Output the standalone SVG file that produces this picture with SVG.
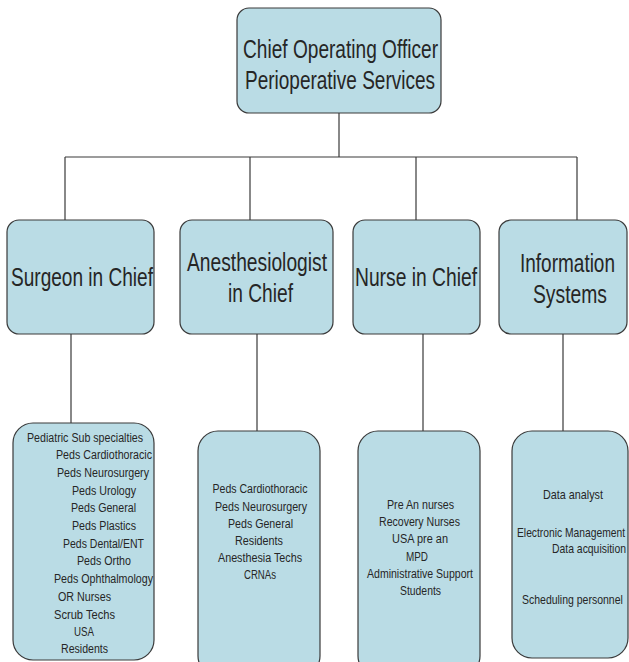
<svg xmlns="http://www.w3.org/2000/svg" width="629" height="662" viewBox="0 0 629 662">
<style>
.box{fill:#badce5;stroke:#3a3a3a;stroke-width:1.2}
.con{stroke:#3a3a3a;stroke-width:1.2;fill:none}
.big{font-family:"Liberation Sans",Arial,sans-serif;font-size:25px;fill:#262626}
.sm{font-family:"Liberation Sans",Arial,sans-serif;font-size:12.5px;fill:#262626}
</style>
<rect width="629" height="662" fill="#ffffff"/>
<g id="connectors" class="con">
<path d="M339,113 V157 M65,157 H577 M65,157 V220 M250,157 V220 M416,157 V220 M577,157 V220"/>
<path d="M71,334 V423 M257,334 V431 M423,334 V431 M563,334 V431"/>
</g>
<g id="coo">
<rect class="box" x="237" y="8" width="204" height="105" rx="12"/>
<text class="big" x="243" y="58" textLength="195" lengthAdjust="spacingAndGlyphs">Chief Operating Officer</text>
<text class="big" x="245" y="89" textLength="190" lengthAdjust="spacingAndGlyphs">Perioperative Services</text>
</g>
<g id="surgeon">
<rect class="box" x="7" y="220" width="147" height="114" rx="12"/>
<text class="big" x="11" y="286" textLength="142" lengthAdjust="spacingAndGlyphs">Surgeon in Chief</text>
</g>
<g id="anesth">
<rect class="box" x="180" y="220" width="153" height="114" rx="12"/>
<text class="big" x="187" y="271" textLength="140" lengthAdjust="spacingAndGlyphs">Anesthesiologist</text>
<text class="big" x="228" y="302" textLength="65" lengthAdjust="spacingAndGlyphs">in Chief</text>
</g>
<g id="nurse">
<rect class="box" x="353" y="220" width="127" height="114" rx="12"/>
<text class="big" x="355" y="286" textLength="122" lengthAdjust="spacingAndGlyphs">Nurse in Chief</text>
</g>
<g id="info">
<rect class="box" x="499" y="220" width="128" height="114" rx="12"/>
<text class="big" transform="matrix(0.8,0,0,1,520,272)" textLength="118.75" lengthAdjust="spacingAndGlyphs">Information</text>
<text class="big" transform="matrix(0.8,0,0,1,533,303)" textLength="92.5" lengthAdjust="spacingAndGlyphs">Systems</text>
</g>
<g id="surgeon-staff">
<rect class="box" x="13" y="423" width="141" height="237" rx="20"/>
<text class="sm" x="27" y="441.5" textLength="116" lengthAdjust="spacingAndGlyphs">Pediatric Sub specialties</text>
<text class="sm" x="56" y="459" textLength="96" lengthAdjust="spacingAndGlyphs">Peds Cardiothoracic</text>
<text class="sm" x="57" y="477" textLength="92" lengthAdjust="spacingAndGlyphs">Peds Neurosurgery</text>
<text class="sm" x="72" y="494.5" textLength="64" lengthAdjust="spacingAndGlyphs">Peds Urology</text>
<text class="sm" x="71" y="512" textLength="65" lengthAdjust="spacingAndGlyphs">Peds General</text>
<text class="sm" x="72" y="530" textLength="64" lengthAdjust="spacingAndGlyphs">Peds Plastics</text>
<text class="sm" x="63" y="547.5" textLength="81" lengthAdjust="spacingAndGlyphs">Peds Dental/ENT</text>
<text class="sm" x="77" y="565" textLength="54" lengthAdjust="spacingAndGlyphs">Peds Ortho</text>
<text class="sm" x="54" y="583" textLength="99" lengthAdjust="spacingAndGlyphs">Peds Ophthalmology</text>
<text class="sm" x="58" y="601" textLength="53" lengthAdjust="spacingAndGlyphs">OR Nurses</text>
<text class="sm" x="54" y="618.5" textLength="61" lengthAdjust="spacingAndGlyphs">Scrub Techs</text>
<text class="sm" x="74" y="636" textLength="20" lengthAdjust="spacingAndGlyphs">USA</text>
<text class="sm" x="61" y="653" textLength="47" lengthAdjust="spacingAndGlyphs">Residents</text>
</g>
<g id="anesth-staff">
<rect class="box" x="198" y="431" width="122" height="245" rx="20"/>
<text class="sm" x="212.5" y="493" textLength="95" lengthAdjust="spacingAndGlyphs">Peds Cardiothoracic</text>
<text class="sm" x="215" y="510.5" textLength="92" lengthAdjust="spacingAndGlyphs">Peds Neurosurgery</text>
<text class="sm" x="228" y="527.5" textLength="65" lengthAdjust="spacingAndGlyphs">Peds General</text>
<text class="sm" x="235" y="544.5" textLength="48" lengthAdjust="spacingAndGlyphs">Residents</text>
<text class="sm" x="218" y="561.5" textLength="84" lengthAdjust="spacingAndGlyphs">Anesthesia Techs</text>
<text class="sm" x="244" y="578.5" textLength="32" lengthAdjust="spacingAndGlyphs">CRNAs</text>
</g>
<g id="nurse-staff">
<rect class="box" x="358" y="431" width="122" height="245" rx="20"/>
<text class="sm" x="387" y="508.5" textLength="67" lengthAdjust="spacingAndGlyphs">Pre An nurses</text>
<text class="sm" x="379" y="525.5" textLength="81" lengthAdjust="spacingAndGlyphs">Recovery Nurses</text>
<text class="sm" x="392" y="542.5" textLength="56" lengthAdjust="spacingAndGlyphs">USA pre an</text>
<text class="sm" x="406" y="560.5" textLength="22" lengthAdjust="spacingAndGlyphs">MPD</text>
<text class="sm" x="367" y="577.5" textLength="106" lengthAdjust="spacingAndGlyphs">Administrative Support</text>
<text class="sm" x="400" y="594.5" textLength="41" lengthAdjust="spacingAndGlyphs">Students</text>
</g>
<g id="info-staff">
<rect class="box" x="512" y="431" width="116" height="227" rx="20"/>
<text class="sm" transform="matrix(0.8,0,0,1,543,498.5)" textLength="75" lengthAdjust="spacingAndGlyphs">Data analyst</text>
<text class="sm" transform="matrix(0.8,0,0,1,517,536.5)" textLength="135" lengthAdjust="spacingAndGlyphs">Electronic Management</text>
<text class="sm" transform="matrix(0.8,0,0,1,552,552.5)" textLength="92.5" lengthAdjust="spacingAndGlyphs">Data acquisition</text>
<text class="sm" transform="matrix(0.8,0,0,1,522,603.5)" textLength="126" lengthAdjust="spacingAndGlyphs">Scheduling personnel</text>
</g>
</svg>
